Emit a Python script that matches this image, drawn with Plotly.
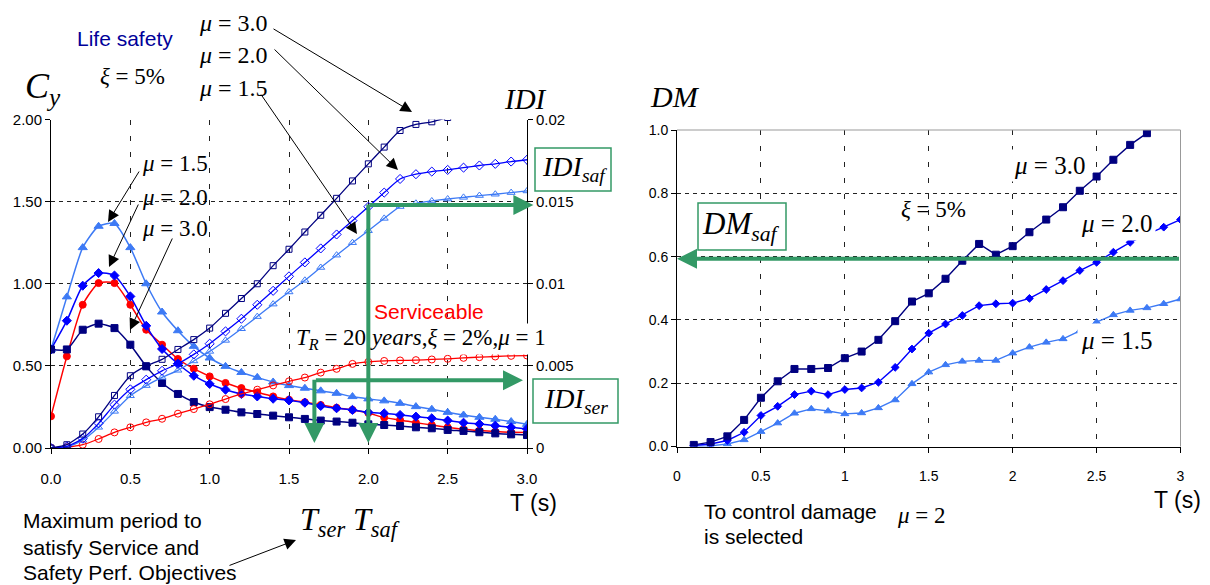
import plotly.graph_objects as go

# ---------------- data ----------------
T = [0.0, 0.1, 0.2, 0.3, 0.4, 0.5, 0.6, 0.7, 0.8, 0.9, 1.0, 1.1, 1.2, 1.3, 1.4, 1.5,
     1.6, 1.7, 1.8, 1.9, 2.0, 2.1, 2.2, 2.3, 2.4, 2.5, 2.6, 2.7, 2.8, 2.9, 3.0]

cy_mu15 = [0.60, 0.92, 1.22, 1.35, 1.367, 1.22, 1.00, 0.828, 0.714, 0.619, 0.548, 0.497, 0.46, 0.43,
           0.402, 0.38, 0.364, 0.348, 0.333, 0.313, 0.299, 0.287, 0.272, 0.252, 0.236, 0.217,
           0.201, 0.187, 0.175, 0.161, 0.144]
cy_mu20 = [0.60, 0.775, 0.988, 1.065, 1.05, 0.923, 0.744, 0.603, 0.513, 0.44, 0.39, 0.355, 0.329,
           0.314, 0.30, 0.29, 0.276, 0.256, 0.242, 0.232, 0.217, 0.211, 0.201, 0.191, 0.181,
           0.167, 0.154, 0.146, 0.136, 0.126, 0.116]
cy_ser = [0.193, 0.558, 0.872, 1.004, 1.004, 0.872, 0.72, 0.629, 0.542, 0.483, 0.436, 0.396, 0.365,
          0.339, 0.314, 0.294, 0.279, 0.262, 0.245, 0.232, 0.213, 0.185, 0.171, 0.154, 0.14,
          0.126, 0.114, 0.106, 0.10, 0.096, 0.094]
cy_mu30 = [0.60, 0.60, 0.72, 0.757, 0.73, 0.629, 0.497, 0.396, 0.329, 0.28, 0.249, 0.233, 0.217,
           0.207, 0.197, 0.187, 0.177, 0.167, 0.161, 0.154, 0.144, 0.14, 0.134, 0.126, 0.12,
           0.11, 0.104, 0.096, 0.089, 0.083, 0.079]

idi_mu30 = [0.0, 0.0002, 0.00085, 0.0019, 0.0032, 0.0044, 0.0050, 0.0054, 0.0060, 0.0066, 0.0073,
            0.0082, 0.0091, 0.0100, 0.0111, 0.0121, 0.01315, 0.01417, 0.0152, 0.01626, 0.0173,
            0.01832, 0.01933, 0.0197, 0.01986, 0.02012, 0.0203, 0.0205, 0.0207, 0.0209, 0.0211]
idi_mu20 = [0.0, 0.0001, 0.00057, 0.0015, 0.00264, 0.00357, 0.00416, 0.0047, 0.00513, 0.0057,
            0.00635, 0.0071, 0.00787, 0.00872, 0.00957, 0.01045, 0.0113, 0.01215, 0.0130,
            0.01384, 0.01469, 0.01555, 0.01638, 0.01667, 0.01683, 0.01693, 0.01707, 0.0172,
            0.0173, 0.01744, 0.01755]
idi_mu15 = [0.0, 0.00006, 0.00047, 0.00126, 0.00223, 0.00318, 0.0038, 0.0043, 0.00473, 0.0053,
            0.00588, 0.00655, 0.00726, 0.008, 0.00876, 0.0095, 0.01021, 0.01099, 0.01174,
            0.0125, 0.01323, 0.01398, 0.0147, 0.0149, 0.01504, 0.01516, 0.01526, 0.01537,
            0.01545, 0.01555, 0.01565]
idi_ser = [0.0, 0.00005, 0.0002, 0.00055, 0.00095, 0.00126, 0.00156, 0.00178, 0.00209, 0.00237,
           0.00266, 0.00298, 0.00329, 0.00355, 0.00381, 0.00406, 0.00429, 0.00459, 0.00482,
           0.00512, 0.00524, 0.0053, 0.00533, 0.00535, 0.00539, 0.00543, 0.00549, 0.00553,
           0.00557, 0.00561, 0.00563]

T_dm = [0.1, 0.2, 0.3, 0.4, 0.5, 0.6, 0.7, 0.8, 0.9, 1.0, 1.1, 1.2, 1.3, 1.4, 1.5,
        1.6, 1.7, 1.8, 1.9, 2.0, 2.1, 2.2, 2.3, 2.4, 2.5, 2.6, 2.7, 2.8, 2.9, 3.0]
dm_mu30 = [0.005, 0.014, 0.032, 0.084, 0.154, 0.206, 0.245, 0.245, 0.248, 0.279, 0.30, 0.337,
           0.396, 0.458, 0.484, 0.53, 0.587, 0.64, 0.606, 0.633, 0.677, 0.717, 0.756, 0.808,
           0.853, 0.906, 0.953, 0.99, 1.04, 1.08]
dm_mu20 = [0.003, 0.008, 0.019, 0.045, 0.098, 0.127, 0.164, 0.175, 0.164, 0.18, 0.185, 0.203,
           0.25, 0.308, 0.358, 0.387, 0.414, 0.445, 0.451, 0.453, 0.468, 0.496, 0.524, 0.556,
           0.582, 0.614, 0.645, 0.67, 0.693, 0.717]
dm_mu15 = [0.0, 0.002, 0.008, 0.021, 0.047, 0.074, 0.105, 0.119, 0.112, 0.103, 0.106, 0.122,
           0.147, 0.198, 0.235, 0.258, 0.269, 0.272, 0.272, 0.295, 0.314, 0.329, 0.34, 0.365,
           0.393, 0.416, 0.43, 0.438, 0.451, 0.466]

# design points
T_ser, T_saf = 1.66, 2.0
IDI_ser, IDI_saf = 0.00413, 0.0148
DM_saf = 0.593

x_ticks = [0.0, 0.5, 1.0, 1.5, 2.0, 2.5, 3.0]
cy_ticks = [0.0, 0.5, 1.0, 1.5, 2.0]
idi_ticks = [0, 0.005, 0.01, 0.015, 0.02]
idi_ticktext = ['0', '0.005', '0.01', '0.015', '0.02']
dm_ticks = [0.0, 0.2, 0.4, 0.6, 0.8, 1.0]
dm_xticktext = ['0', '0.5', '1', '1.5', '2', '2.5', '3']

# ---------------- styling ----------------
W, H = 1210, 585
NAVY, BLUE, LBLUE, RED, GREEN = '#000080', '#0000ff', '#3d7af5', '#ff0000', '#339966'
SANS = 'Liberation Sans, Arial, sans-serif'
SERIF = 'Liberation Serif, Times New Roman, serif'


def fx(p):
    return p / W


def fy(p):
    return 1 - p / H


fig = go.Figure()


def add(x, y, color, symbol, size, xa, ya, shape='spline', width=1.5):
    fig.add_trace(go.Scatter(
        x=x, y=y, mode='lines+markers', xaxis=xa, yaxis=ya, showlegend=False,
        hoverinfo='skip',
        line=dict(color=color, width=width, shape=shape,
                  **({'smoothing': 0.6} if shape == 'spline' else {})),
        marker=dict(symbol=symbol, size=size, color=color,
                    line=dict(color=color, width=1))))


# IDI (right axis of left panel)
add(T, idi_ser, RED, 'circle-open', 7, 'x', 'y2', width=1.3)
add(T, idi_mu15, LBLUE, 'triangle-up-open', 7, 'x', 'y2', width=1.3)
add(T, idi_mu20, BLUE, 'diamond-open', 7, 'x', 'y2', width=1.3)
add(T, idi_mu30, NAVY, 'square-open', 6, 'x', 'y2', width=1.3)
# Cy (left axis)
add(T, cy_mu15, LBLUE, 'triangle-up', 8, 'x', 'y')
add(T, cy_ser, RED, 'circle', 7, 'x', 'y')
add(T, cy_mu20, BLUE, 'diamond', 7, 'x', 'y')
add(T, cy_mu30, NAVY, 'square', 7, 'x', 'y')
# DM panel
add(T_dm, dm_mu15, LBLUE, 'triangle-up', 7, 'x2', 'y3', shape='linear', width=1.4)
add(T_dm, dm_mu20, BLUE, 'diamond', 6, 'x2', 'y3', shape='linear', width=1.4)
add(T_dm, dm_mu30, NAVY, 'square', 7, 'x2', 'y3', shape='linear', width=1.4)

tickfont = dict(family=SANS, size=15, color='black')
tickfont_dm = dict(family=SANS, size=14, color='black')
common = dict(showline=True, linecolor='black', linewidth=1, ticks='outside', ticklen=5,
              tickcolor='black', zeroline=False, gridcolor='#222222', gridwidth=1,
              automargin=False)

fig.update_layout(
    width=W, height=H, margin=dict(l=0, r=0, t=0, b=0, autoexpand=False),
    paper_bgcolor='white', plot_bgcolor='white', showlegend=False,
    xaxis=dict(domain=[fx(51), fx(527)], range=[0, 3], anchor='y', tickvals=x_ticks,
               tickformat='.1f', tickfont=tickfont, showgrid=True, griddash='5px,11px',
               ticklabelstandoff=12, **common),
    yaxis=dict(domain=[fy(448), fy(119.5)], range=[0, 2], anchor='x', tickvals=cy_ticks,
               tickformat='.2f', tickfont=tickfont, showgrid=True, griddash='4px,4px',
               **common),
    yaxis2=dict(overlaying='y', side='right', anchor='x', range=[0, 0.02],
                tickvals=idi_ticks, ticktext=idi_ticktext, tickfont=tickfont,
                showgrid=False, **common),
    xaxis2=dict(domain=[fx(677), fx(1180.5)], range=[0, 3], anchor='y3', tickvals=x_ticks,
                ticktext=dm_xticktext, tickfont=tickfont_dm, showgrid=True,
                griddash='5px,11px', ticklabelstandoff=12, **common),
    yaxis3=dict(domain=[fy(446.5), fy(130)], range=[0, 1], anchor='x2', tickvals=dm_ticks,
                tickformat='.1f', tickfont=tickfont_dm, showgrid=True, griddash='4px,4px',
                **common),
)

# DM panel light border top / right
for x0, y0, x1, y1 in [(0, 1, 1, 1), (1, 0, 1, 1)]:
    fig.add_shape(type='line', xref='x2 domain', yref='y3 domain', x0=x0, y0=y0, x1=x1, y1=y1,
                  line=dict(color='#999999', width=1), layer='above')

# green boxes
for (x0, y0, x1, y1) in [(535, 148, 611, 191), (533, 379, 618, 423), (698, 203, 786, 250)]:
    fig.add_shape(type='rect', xref='paper', yref='paper', x0=fx(x0), x1=fx(x1),
                  y0=fy(y1), y1=fy(y0), line=dict(color=GREEN, width=1.5),
                  fillcolor='white', layer='above')


def ann(text, x, y, size, family=SERIF, color='black', xanchor='center', bg=None, pad=1):
    fig.add_annotation(text=text, x=fx(x), y=fy(y), xref='paper', yref='paper',
                       showarrow=False, xanchor=xanchor, yanchor='middle',
                       font=dict(family=family, size=size, color=color),
                       bgcolor=bg, borderpad=pad)


def arrow(x0, y0, x1, y1):
    fig.add_annotation(text='', x=fx(x1), y=fy(y1), xref='paper', yref='paper',
                       ax=x0 - x1, ay=y0 - y1, axref='pixel', ayref='pixel',
                       showarrow=True, arrowhead=2, arrowsize=2.3, arrowwidth=1,
                       arrowcolor='black')


def garrow(xa, ya, xt, yt, xh, yh):
    fig.add_annotation(text='', x=xh, y=yh, xref=xa, yref=ya, ax=xt, ay=yt,
                       axref=xa, ayref=ya, showarrow=True, arrowhead=2, arrowsize=1,
                       arrowwidth=4, arrowcolor=GREEN)


# ---- left panel texts ----
ann('Life safety', 125, 39, 21, family=SANS, color='#000099')
ann('<i>ξ</i> = 5%', 132, 77, 23)
ann('<i>μ</i> = 3.0', 233, 23, 24)
ann('<i>μ</i> = 2.0', 233, 55, 24)
ann('<i>μ</i> = 1.5', 233, 88, 24)
ann('<i>C</i><sub><i>y</i></sub>', 43, 88, 36)
ann('<i>IDI</i>', 525, 99, 29)
ann('<i>μ</i> = 1.5', 175, 163, 23)
ann('<i>μ</i> = 2.0', 175, 197, 23)
ann('<i>μ</i> = 3.0', 175, 229, 23)
ann('<i>IDI</i><sub><i>saf</i></sub>', 574, 168, 28)
ann('<i>IDI</i><sub><i>ser</i></sub>', 576, 400, 28)
ann('Serviceable', 429, 311, 21, family=SANS, color=RED)
ann('<i>T</i><sub><i>R</i></sub> = 20 <i>years</i>,<i>ξ</i> = 2%,<i>μ</i> = 1', 421, 339, 23,
    bg='white')
ann('T (s)', 533, 503, 23, family=SANS)
ann('<i>T</i><sub><i>ser</i></sub>', 322, 521, 32)
ann('<i>T</i><sub><i>saf</i></sub>', 376, 521, 32)
ann('Maximum period to', 21, 520, 21, family=SANS, xanchor='left')
ann('satisfy Service and', 21, 547, 21, family=SANS, xanchor='left')
ann('Safety Perf. Objectives', 21, 572, 21, family=SANS, xanchor='left')

# ---- DM panel texts ----
ann('<i>DM</i>', 675, 97, 30)
ann('<i>DM</i><sub><i>saf</i></sub>', 741, 226, 31)
ann('<i>ξ</i> = 5%', 933, 209, 23)
ann('<i>μ</i> = 3.0', 1049, 165, 25, bg='white', pad=2)
ann('<i>μ</i> = 2.0', 1116, 223, 25, bg='white', pad=3)
ann('<i>μ</i> = 1.5', 1116, 340, 25, bg='white', pad=3)
ann('To control damage', 702, 511, 21, family=SANS, xanchor='left')
ann('is selected', 702, 536, 21, family=SANS, xanchor='left')
ann('<i>μ</i> = 2', 921, 515, 23)
ann('T (s)', 1177, 500, 23, family=SANS)

# ---- black arrows ----
arrow(272, 28, 412, 112)
arrow(273, 48, 398, 170)
arrow(260, 93, 357, 234)
arrow(140, 170, 108, 222)
arrow(139, 203, 109, 267)
arrow(173, 237, 130, 330)
arrow(228, 566, 296, 540)

# ---- green design arrows ----
garrow('x', 'y2', T_saf, IDI_saf + 0.00012, T_saf, 0.0003)
garrow('x', 'y2', T_saf, IDI_saf, 3.04, IDI_saf)
garrow('x', 'y2', T_ser, IDI_ser + 0.00012, T_ser, 0.0003)
garrow('x', 'y2', T_ser, IDI_ser, 2.975, IDI_ser)
garrow('x2', 'y3', 3.0, DM_saf, 0.0, DM_saf)

# remove the default 8px page margin so the figure fills the window exactly
fig.write_html('out.html', config={'displayModeBar': False},
               post_script="document.body.style.margin='0';document.body.style.overflow='hidden';")
